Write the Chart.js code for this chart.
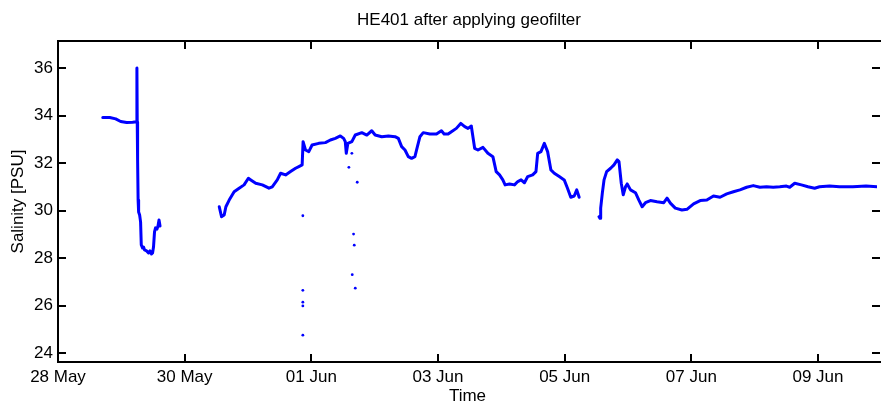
<!DOCTYPE html>
<html><head><meta charset="utf-8">
<script src="https://cdn.jsdelivr.net/npm/chart.js@4.4.1/dist/chart.umd.min.js"></script>
<style>html,body{margin:0;padding:0;background:#fff;}</style>
</head><body>
<canvas id="c" width="881" height="405"></canvas>
<script>
const titleText = 'HE401 after applying geofilter';
const xTitle = 'Time';
const yTitle = 'Salinity [PSU]';
// x values: days since 28 May 00:00
const xTickDays = [0, 2, 4, 6, 8, 10, 12];
const xTickLabels = ['28 May', '30 May', '01 Jun', '03 Jun', '05 Jun', '07 Jun', '09 Jun'];
const yTicks = [24, 26, 28, 30, 32, 34, 36];

const seg1Days = [0.707,0.817,0.911,0.990,1.084,1.179,1.241,1.246,1.251,1.257,1.265,1.273,1.289,1.304,1.315,1.336,1.351,1.367,1.399,1.430,1.453,1.477,1.493,1.508,1.524,1.540,1.563,1.579,1.595,1.611];
const seg1Sal  = [33.93,33.93,33.87,33.76,33.72,33.73,33.75,36.01,33.74,32.14,30.45,29.95,29.82,29.53,28.56,28.43,28.47,28.35,28.31,28.22,28.31,28.18,28.22,28.47,29.11,29.28,29.23,29.36,29.61,29.36];

const seg2Days = [2.546,2.582,2.624,2.651,2.703,2.781,2.860,2.938,3.006,3.044,3.122,3.226,3.331,3.383,3.462,3.515,3.594,3.672,3.751,3.803,3.855,3.870,3.908,3.960,4.012,4.117,4.222,4.301,4.379,4.458,4.510,4.536,4.552,4.577,4.640,4.694,4.797,4.876,4.954,5.008,5.112,5.217,5.322,5.374,5.426,5.479,5.531,5.583,5.636,5.662,5.715,5.767,5.872,5.976,6.054,6.097,6.160,6.212,6.290,6.359,6.422,6.474,6.526,6.579,6.631,6.710,6.788,6.867,6.919,6.972,7.024,7.060,7.129,7.208,7.260,7.312,7.365,7.417,7.495,7.547,7.574,7.626,7.679,7.731,7.783,7.836,7.915,7.993,8.045,8.097,8.151,8.191,8.229];
const seg2Sal  = [30.17,29.75,29.82,30.17,30.45,30.80,30.95,31.09,31.37,31.30,31.16,31.09,30.95,31.01,31.30,31.58,31.51,31.65,31.79,31.86,31.93,32.91,32.56,32.49,32.77,32.84,32.87,32.98,33.05,33.15,33.05,32.91,32.42,32.84,32.91,33.19,33.29,33.19,33.37,33.19,33.12,33.15,33.12,33.05,32.70,32.56,32.28,32.21,32.28,32.56,33.12,33.29,33.23,33.23,33.37,33.23,33.23,33.33,33.47,33.68,33.54,33.47,33.57,32.63,32.56,32.67,32.42,32.28,31.65,31.51,31.30,31.09,31.13,31.09,31.23,31.30,31.18,31.44,31.51,31.65,32.42,32.49,32.84,32.49,31.72,31.58,31.44,31.30,30.95,30.57,30.62,30.88,30.57];

const seg3Days = [8.543,8.559,8.569,8.595,8.622,8.663,8.726,8.779,8.831,8.858,8.894,8.925,8.961,8.988,9.040,9.118,9.172,9.224,9.276,9.354,9.459,9.565,9.617,9.669,9.747,9.852,9.931,10.036,10.140,10.245,10.350,10.454,10.559,10.665,10.768,10.874,10.979,11.083,11.188,11.293,11.397,11.502,11.554,11.633,11.738,11.843,11.947,12.025,12.183,12.340,12.550,12.759,12.932];
const seg3Sal  = [29.75,29.68,30.11,30.74,31.30,31.65,31.79,31.93,32.14,32.07,31.16,30.67,31.01,31.13,30.88,30.76,30.45,30.17,30.34,30.43,30.38,30.34,30.53,30.32,30.11,30.03,30.06,30.29,30.43,30.45,30.62,30.57,30.71,30.80,30.88,30.99,31.06,30.99,31.01,30.99,31.01,31.04,30.99,31.16,31.09,31.01,30.95,31.01,31.04,31.01,31.01,31.04,31.01];

const outlierDays = [3.866,3.866,3.866,3.866,3.866,4.593,4.725,4.667,4.678,4.646,4.694,4.640];
const outlierSal  = [29.79,26.65,26.15,25.99,24.76,31.83,31.20,29.02,28.55,27.31,26.74,32.42];

const xMin = 0, xMax = 12.932, yMin = 23.63, yMax = 37.15;

const pts = (xs, ys) => xs.map((x, i) => ({x: x, y: ys[i]}));
const FONT = '"Liberation Sans", Arial, sans-serif';
const BLUE = '#0000ff';

const lineDs = (d) => ({data: d, showLine: true, borderColor: BLUE, borderWidth: 3, pointRadius: 0, borderJoinStyle: 'round', borderCapStyle: 'round', tension: 0});

const framePlugin = {
  id: 'frame',
  afterDraw(chart) {
    const {ctx, chartArea: a, scales} = chart;
    ctx.save();
    ctx.strokeStyle = '#000';
    ctx.lineWidth = 2;
    // box: left, top, bottom (right edge lies just outside the canvas)
    ctx.beginPath();
    ctx.moveTo(a.right + 4, a.top); ctx.lineTo(a.left, a.top);
    ctx.lineTo(a.left, a.bottom); ctx.lineTo(a.right + 4, a.bottom);
    ctx.stroke();
    const tl = 8;
    const rEdge = a.right + 3;
    ctx.beginPath();
    scales.x.ticks.forEach(t => {
      const px = Math.round(scales.x.getPixelForValue(t.value));
      ctx.moveTo(px, a.bottom); ctx.lineTo(px, a.bottom - tl);
      ctx.moveTo(px, a.top); ctx.lineTo(px, a.top + tl);
    });
    scales.y.ticks.forEach(t => {
      const py = Math.round(scales.y.getPixelForValue(t.value));
      ctx.moveTo(a.left, py); ctx.lineTo(a.left + tl, py);
      ctx.moveTo(rEdge, py); ctx.lineTo(rEdge - tl, py);
    });
    ctx.stroke();
    ctx.fillStyle = '#000';
    ctx.font = '17px ' + FONT;
    ctx.textAlign = 'center';
    ctx.textBaseline = 'alphabetic';
    ctx.fillText(titleText, (a.left + a.right + 3) / 2, 25);
    ctx.restore();
  }
};

new Chart(document.getElementById('c'), {
  type: 'scatter',
  data: {
    datasets: [
      lineDs(pts(seg1Days, seg1Sal)),
      lineDs(pts(seg2Days, seg2Sal)),
      lineDs(pts(seg3Days, seg3Sal)),
      {data: pts(outlierDays, outlierSal), showLine: false, pointRadius: 1.4, pointBackgroundColor: BLUE, pointBorderWidth: 0, borderColor: BLUE}
    ]
  },
  options: {
    responsive: false,
    animation: false,
    devicePixelRatio: 1,
    layout: {padding: {top: 41, right: 0, bottom: 0, left: 0}},
    plugins: {legend: {display: false}, tooltip: {enabled: false}, title: {display: false}},
    scales: {
      x: {
        type: 'linear', min: xMin, max: xMax,
        grid: {display: false, drawTicks: false}, border: {display: false},
        afterBuildTicks: s => { s.ticks = xTickDays.map(v => ({value: v})); },
        afterFit: s => { s.height = 43; },
        ticks: {color: '#000', font: {family: FONT, size: 17}, padding: 5, maxRotation: 0, autoSkip: false,
          callback: v => xTickLabels[xTickDays.indexOf(v)]},
        title: {display: true, text: xTitle, color: '#000', font: {family: FONT, size: 17, lineHeight: 1}, padding: {top: 0, bottom: 0}}
      },
      y: {
        type: 'linear', min: yMin, max: yMax,
        grid: {display: false, drawTicks: false}, border: {display: false},
        afterBuildTicks: s => { s.ticks = yTicks.map(v => ({value: v})); },
        afterFit: s => { s.width = 58; },
        ticks: {color: '#000', font: {family: FONT, size: 17}, padding: 5},
        title: {display: true, text: yTitle, color: '#000', font: {family: FONT, size: 17, lineHeight: 1}, padding: {top: 9.5, bottom: 0}}
      }
    }
  },
  plugins: [framePlugin]
});
</script>
</body></html>
